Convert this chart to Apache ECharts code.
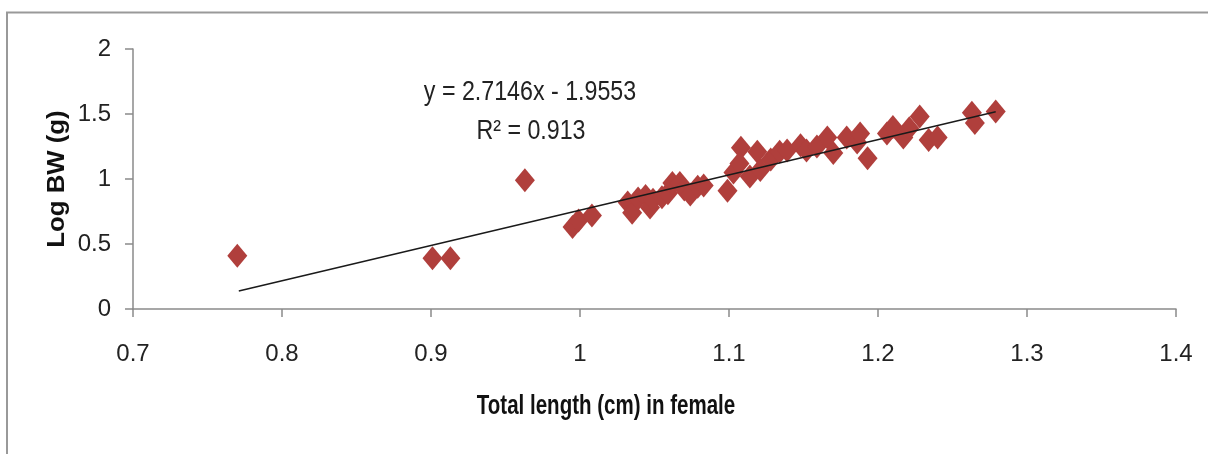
<!DOCTYPE html>
<html>
<head>
<meta charset="utf-8">
<script src="https://cdn.jsdelivr.net/npm/echarts@6/dist/echarts.min.js"></script>
<style>
html,body{margin:0;padding:0;background:#fff;}
#chart{width:1208px;height:454px;}
</style>
</head>
<body>
<div id="chart"></div>
<script>
// Total length (x) and Log BW (y)
const lengthX = [0.770, 0.901, 0.913, 0.963, 0.995, 0.999, 1.008, 1.032, 1.035, 1.039,
  1.044, 1.047, 1.049, 1.055, 1.059, 1.062, 1.067, 1.070, 1.074, 1.079,
  1.083, 1.099, 1.103, 1.108, 1.107, 1.114, 1.119, 1.121, 1.128, 1.134,
  1.139, 1.148, 1.152, 1.159, 1.166, 1.170, 1.179, 1.186, 1.188, 1.193,
  1.206, 1.210, 1.217, 1.221, 1.228, 1.234, 1.240, 1.263, 1.265, 1.279];
const logBW = [0.41, 0.39, 0.39, 0.99, 0.63, 0.68, 0.72, 0.82, 0.74, 0.85,
  0.87, 0.78, 0.84, 0.86, 0.89, 0.97, 0.97, 0.92, 0.88, 0.94,
  0.95, 0.91, 1.05, 1.24, 1.12, 1.02, 1.21, 1.07, 1.15, 1.21,
  1.22, 1.26, 1.22, 1.25, 1.32, 1.20, 1.32, 1.28, 1.35, 1.16,
  1.35, 1.40, 1.32, 1.39, 1.48, 1.30, 1.32, 1.51, 1.43, 1.52];
// Linear trend line endpoints
const trendX = [0.771, 1.279];
const trendY = [0.138, 1.517];
const xTicks = [0.7, 0.8, 0.9, 1, 1.1, 1.2, 1.3, 1.4];
const yTicks = [0, 0.5, 1, 1.5, 2];
const equationText = 'y = 2.7146x - 1.9553';
const r2Text = 'R\u00B2 = 0.913';
const xTitle = 'Total length (cm) in female';
const yTitle = 'Log BW (g)';

const scatterData = lengthX.map((x, i) => [x, logBW[i]]);
const trendData = trendX.map((x, i) => [x, trendY[i]]);
const FONT = '"Liberation Sans", Arial, sans-serif';
const axisColor = '#8a8a8a';

const chart = echarts.init(document.getElementById('chart'), null, {renderer: 'canvas'});
chart.setOption({
  animation: false,
  backgroundColor: '#fff',
  grid: {left: 133, right: 32, top: 49, bottom: 145},
  xAxis: {
    type: 'value', min: xTicks[0], max: xTicks[xTicks.length - 1], interval: 0.1,
    splitLine: {show: false},
    axisLine: {onZero: false, lineStyle: {color: axisColor, width: 1.5}},
    axisTick: {show: true, inside: false, length: 8, lineStyle: {color: axisColor, width: 1.5}},
    axisLabel: {color: '#222', fontFamily: FONT, fontSize: 24, margin: 33,
      formatter: v => String(parseFloat(v.toFixed(2)))}
  },
  yAxis: {
    type: 'value', min: yTicks[0], max: yTicks[yTicks.length - 1], interval: 0.5,
    splitLine: {show: false},
    axisLine: {show: true, onZero: false, lineStyle: {color: axisColor, width: 1.5}},
    axisTick: {show: true, inside: false, length: 8, lineStyle: {color: axisColor, width: 1.5}},
    axisLabel: {color: '#222', fontFamily: FONT, fontSize: 24, margin: 22,
      formatter: v => String(parseFloat(v.toFixed(2)))}
  },
  series: [
    {
      type: 'scatter', data: scatterData, symbol: 'diamond', symbolSize: [20, 24],
      itemStyle: {color: '#B03F3C', opacity: 1}, z: 2
    },
    {
      type: 'line', data: trendData, symbol: 'none',
      lineStyle: {color: '#1a1a1a', width: 1.5}, z: 3
    }
  ],
  graphic: [
    {type: 'polyline', shape: {points: [[7, 460], [7, 12.5], [1215, 12.5]]},
      style: {stroke: '#999', lineWidth: 2, fill: null}},
    {type: 'text', x: 530, y: 93, scaleX: 0.86, style: {text: equationText, font: '27px ' + FONT,
      fill: '#222', align: 'center', verticalAlign: 'middle'}},
    {type: 'text', x: 531, y: 132, scaleX: 0.86, style: {text: r2Text, font: '27px ' + FONT,
      fill: '#222', align: 'center', verticalAlign: 'middle'}},
    {type: 'text', x: 606, y: 407, scaleX: 0.76, style: {text: xTitle, font: 'bold 27px ' + FONT,
      fill: '#111', align: 'center', verticalAlign: 'middle'}},
    {type: 'text', x: 58, y: 179, rotation: Math.PI / 2, scaleX: 1.12, style: {text: yTitle,
      font: 'bold 23px ' + FONT, fill: '#111', align: 'center', verticalAlign: 'middle'}}
  ]
});
</script>
</body>
</html>
